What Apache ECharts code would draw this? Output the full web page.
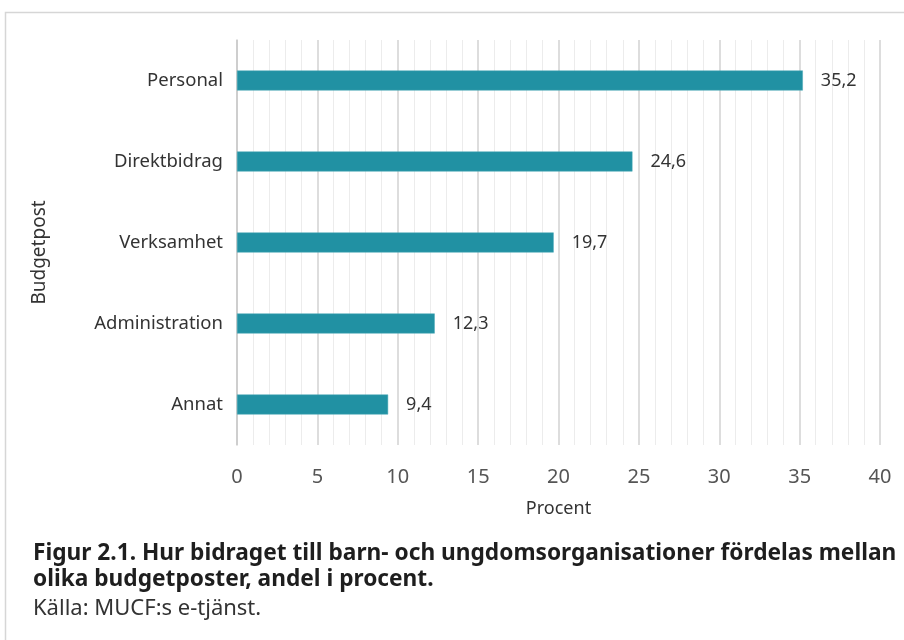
<!DOCTYPE html>
<html>
<head>
<meta charset="utf-8">
<script src="https://cdn.jsdelivr.net/npm/echarts@6/dist/echarts.min.js"></script>
<style>
html,body{margin:0;padding:0;background:#fff;}
#chart{width:904px;height:640px;}
</style>
</head>
<body>
<div id="chart"></div>
<script>
var categories = ['Personal', 'Direktbidrag', 'Verksamhet', 'Administration', 'Annat'];
var values = [35.2, 24.6, 19.7, 12.3, 9.4];
var captionLines = ['Figur 2.1. Hur bidraget till barn- och ungdomsorganisationer fördelas mellan', 'olika budgetposter, andel i procent.'];
var sourceText = 'Källa: MUCF:s e-tjänst.';

var chart = echarts.init(document.getElementById('chart'));
var font = '"Noto Sans", "Open Sans", sans-serif';

var option = {
	animation: false,
	backgroundColor: '#fff',
	textStyle: {fontFamily: font},
	grid: {left: 237, right: 24, top: 40, bottom: 195, containLabel: false},
	xAxis: {
		type: 'value',
		min: 0,
		max: 40,
		interval: 5,
		name: 'Procent',
		nameLocation: 'middle',
		nameGap: 55,
		nameTextStyle: {fontSize: 18, color: '#333', fontFamily: font},
		axisLine: {show: false},
		axisTick: {show: false},
		axisLabel: {fontSize: 20, color: '#555', margin: 22, fontFamily: font},
		splitLine: {show: true, lineStyle: {color: '#d2d2d2', width: 1.5}},
		minorTick: {show: false, splitNumber: 5},
		minorSplitLine: {show: true, lineStyle: {color: '#ececec', width: 1}}
	},
	yAxis: {
		type: 'category',
		inverse: true,
		data: categories,
		name: 'Budgetpost',
		nameLocation: 'middle',
		nameGap: 188,
		nameRotate: 90,
		nameTextStyle: {fontSize: 19, color: '#333', fontFamily: font, padding: [0, 20, 0, 0]},
		axisLine: {show: true, lineStyle: {color: '#c8c8c8', width: 1.5}},
		axisTick: {show: false},
		axisLabel: {fontSize: 18.5, color: '#333', margin: 14, fontFamily: font},
		splitLine: {show: false}
	},
	series: [{
		type: 'bar',
		data: values,
		barWidth: 20,
		itemStyle: {color: '#2191a3', borderColor: '#4aa8b6', borderWidth: 0.5},
		label: {
			show: true,
			position: 'right',
			distance: 18,
			fontSize: 18,
			color: '#333',
			fontFamily: font,
			formatter: function(p){
				return String(p.value).replace('.', ',');
			}
		}
	}],
	graphic: [
		{
			type: 'rect',
			shape: {x: 5.5, y: 12.5, width: 920, height: 660},
			style: {fill: 'none', stroke: '#d6d6d6', lineWidth: 1.5},
			silent: true
		},
		{
			type: 'text',
			left: 33,
			top: 541,
			style: {
				text: captionLines.join('\n'),
				font: 'bold 22.7px ' + font,
				fill: '#1e1e1e',
				lineHeight: 26
			}
		},
		{
			type: 'text',
			left: 33,
			top: 598,
			style: {
				text: sourceText,
				font: '22px ' + font,
				fill: '#333'
			}
		}
	]
};
chart.setOption(option);
</script>
</body>
</html>
